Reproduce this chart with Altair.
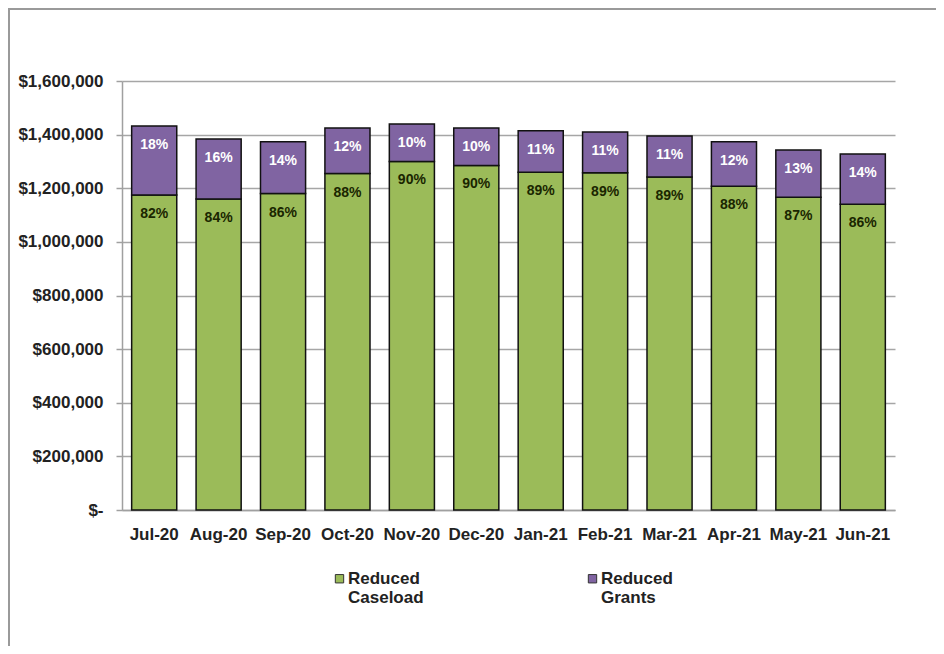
import altair as alt
import pandas as pd

months = ["Jul-20", "Aug-20", "Sep-20", "Oct-20", "Nov-20", "Dec-20",
          "Jan-21", "Feb-21", "Mar-21", "Apr-21", "May-21", "Jun-21"]
series = ["Reduced Caseload", "Reduced Grants"]
caseload = [1175000, 1160000, 1180000, 1255000, 1300000, 1285000,
            1260000, 1258000, 1242000, 1207000, 1166000, 1140000]
grants = [257000, 224000, 193000, 170000, 140000, 140000,
          154000, 152000, 153000, 166000, 177000, 188000]
pct_caseload = [82, 84, 86, 88, 90, 90, 89, 89, 89, 88, 87, 86]
pct_grants = [18, 16, 14, 12, 10, 10, 11, 11, 11, 12, 13, 14]
colors = ["#9BBB59", "#8064A2"]
text_colors = ["#1a2600", "#ffffff"]

rows = []
for i, m in enumerate(months):
    rows.append({"month": m, "series": series[0], "value": caseload[i],
                 "top": caseload[i], "pct": f"{pct_caseload[i]}%", "order": 0})
    rows.append({"month": m, "series": series[1], "value": grants[i],
                 "top": caseload[i] + grants[i], "pct": f"{pct_grants[i]}%", "order": 1})
df = pd.DataFrame(rows)

FONT = "Liberation Sans"

x = alt.X("month:N", sort=months, title=None,
          scale=alt.Scale(paddingInner=0.3, paddingOuter=0.15),
          axis=alt.Axis(labelAngle=0, labelFont=FONT, labelFontSize=17,
                        labelFontWeight="bold", labelColor="#222222",
                        ticks=False, labelPadding=16, domainColor="#a0a0a0",
                        domainWidth=1.5, grid=False))

bars = alt.Chart(df).mark_bar(stroke="#111111", strokeWidth=1.5).encode(
    x=x,
    y=alt.Y("value:Q", stack="zero", title=None,
            scale=alt.Scale(domain=[0, 1600000]),
            axis=alt.Axis(values=list(range(0, 1600001, 200000)),
                          labelExpr="datum.value == 0 ? '$-' : '$' + format(datum.value, ',')",
                          labelFont=FONT, labelFontSize=17, labelFontWeight="bold",
                          labelColor="#222222", labelPadding=13,
                          tickSize=6, tickColor="#a0a0a0", tickWidth=1.5,
                          domainColor="#a0a0a0", domainWidth=1.5,
                          gridColor="#a6a6a6", gridWidth=1.5)),
    color=alt.Color("series:N", scale=alt.Scale(domain=series, range=colors),
                    legend=alt.Legend(title=None, orient="none", direction="horizontal",
                                      legendX=209, legendY=489,
                                      symbolType="square", symbolSize=70,
                                      symbolStrokeColor="#333333", symbolStrokeWidth=1,
                                      labelFont=FONT, labelFontSize=17,
                                      labelFontWeight="bold", labelColor="#222222",
                                      labelOffset=0, columnPadding=160,
                                      labelBaseline="middle",
                                      labelExpr="split(datum.label, ' ')")),
    order=alt.Order("order:Q"),
)

labels = alt.Chart(df).mark_text(font=FONT, fontSize=14, fontWeight="bold",
                                 baseline="middle", dy=19).encode(
    x=alt.X("month:N", sort=months),
    y=alt.Y("top:Q"),
    text="pct:N",
    color=alt.Color("series:N", scale=alt.Scale(domain=series, range=text_colors), legend=None),
)

frame_top = alt.Chart(df).mark_rule(color="#9a9a9a", strokeWidth=2).encode(
    x=alt.value(-114), x2=alt.value(814), y=alt.value(-72))
frame_left = alt.Chart(df).mark_rule(color="#9a9a9a", strokeWidth=2).encode(
    x=alt.value(-113), y=alt.value(-73), y2=alt.value(565))

chart = alt.layer(bars, labels, frame_top, frame_left).resolve_scale(color="independent").properties(
    width=773, height=429,
    background="white",
    autosize=alt.AutoSizeParams(type="none"),
    padding={"left": 114, "top": 73, "right": 41, "bottom": 136},
).configure_view(strokeOpacity=0, strokeWidth=0)

chart.save("out.html", embed_options={"renderer": "svg", "actions": False})
